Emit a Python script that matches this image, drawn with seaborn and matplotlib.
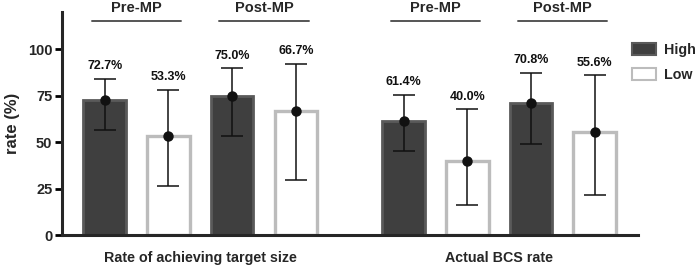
import numpy as np
import pandas as pd
import matplotlib
matplotlib.use("Agg")
import matplotlib.pyplot as plt
import seaborn as sns
from matplotlib.patches import Patch

# values
panels = ["Rate of achieving target size", "Actual BCS rate"]
phases = ["Pre-MP", "Post-MP"]
levels = ["High", "Low"]
rate = [72.7, 53.3, 75.0, 66.7, 61.4, 40.0, 70.8, 55.6]
ci_low = [56.6, 26.5, 53.1, 29.6, 45.3, 16.3, 48.8, 21.3]
ci_high = [84.0, 78.3, 89.8, 92.1, 75.4, 67.6, 87.3, 85.9]
yticks = [0, 25, 50, 75, 100]

# slot positions: 4 bars per panel, extra gap between panels
gap = 0.69
pos = [i + (i // 4) * gap for i in range(8)]

df = pd.DataFrame({
    "pos": pos,
    "rate": rate,
    "level": [levels[i % 2] for i in range(8)],
    "phase": [phases[(i // 2) % 2] for i in range(8)],
    "panel": [panels[i // 4] for i in range(8)],
})

sns.set_theme(style="ticks")
plt.rcParams["font.family"] = ["Liberation Sans", "DejaVu Sans"]
plt.rcParams["font.weight"] = "bold"

dark, dark_edge = "#3f3f3f", "#5a5a5a"
light_edge = "#bcbcbc"

fig = plt.figure(figsize=(7, 2.68), dpi=100)
ax = fig.add_axes([0.0886, 0.123, 0.8228, 0.832])

sns.barplot(data=df, x="pos", y="rate", hue="level", native_scale=True,
            dodge=False, width=0.67, palette={"High": dark, "Low": "white"},
            errorbar=None, legend=False, ax=ax)
for p in ax.patches:
    fc = p.get_facecolor()
    if fc[0] > 0.9:
        p.set_edgecolor(light_edge)
        p.set_linewidth(2.4)
    else:
        p.set_edgecolor(dark_edge)
        p.set_linewidth(2.0)

yerr = np.array([np.array(rate) - np.array(ci_low), np.array(ci_high) - np.array(rate)])
ax.errorbar(df["pos"], df["rate"], yerr=yerr, fmt="o", color="#111111",
            ms=6.5, elinewidth=1.1, capsize=8, capthick=1.1, zorder=5)

for x, r, hi in zip(df["pos"], rate, ci_high):
    ax.text(x, hi + 6.8, f"{r:.1f}%", ha="center", va="center",
            fontsize=9, fontweight="bold", color="#111111")

# phase headers
for k in range(4):
    x0, x1 = pos[2 * k], pos[2 * k + 1]
    ax.plot([x0 - 0.2, x1 + 0.2], [115, 115], color="#555555", lw=1.4,
            clip_on=False)
    ax.text((x0 + x1) / 2, 122, phases[k % 2], ha="center", va="center",
            fontsize=10.5, fontweight="bold", clip_on=False)

# panel labels below
for j, name in enumerate(panels):
    xc = (pos[4 * j] + pos[4 * j + 3]) / 2
    ax.text(xc, -12.5, name, ha="center", va="center", fontsize=10.3,
            fontweight="bold", clip_on=False)

ax.set_xlim(-0.67, pos[-1] + 0.68)
ax.set_ylim(0, 120)
ax.set_yticks(yticks)
ax.set_yticklabels([str(t) for t in yticks], fontsize=10.5, fontweight="bold")
ax.set_xticks([])
ax.set_xlabel("")
ax.set_ylabel("rate (%)", fontsize=12, fontweight="bold")
ax.yaxis.set_label_coords(-0.073, 0.5)
for s in ["top", "right"]:
    ax.spines[s].set_visible(False)
ax.spines["left"].set_linewidth(2.2)
ax.spines["bottom"].set_linewidth(2.2)
ax.tick_params(axis="y", width=2, length=5, pad=2, color="black")

handles = [Patch(facecolor=dark, edgecolor=dark_edge, lw=1.5, label="High"),
           Patch(facecolor="white", edgecolor=light_edge, lw=1.5, label="Low")]
fig.legend(handles=handles, loc="upper left", bbox_to_anchor=(0.903, 0.84),
           frameon=False, handlelength=1.65, handleheight=0.95,
           handletextpad=0.55, labelspacing=0.75, borderpad=0, borderaxespad=0,
           prop={"weight": "bold", "size": 10.3})

fig.savefig("out.png", dpi=100)
